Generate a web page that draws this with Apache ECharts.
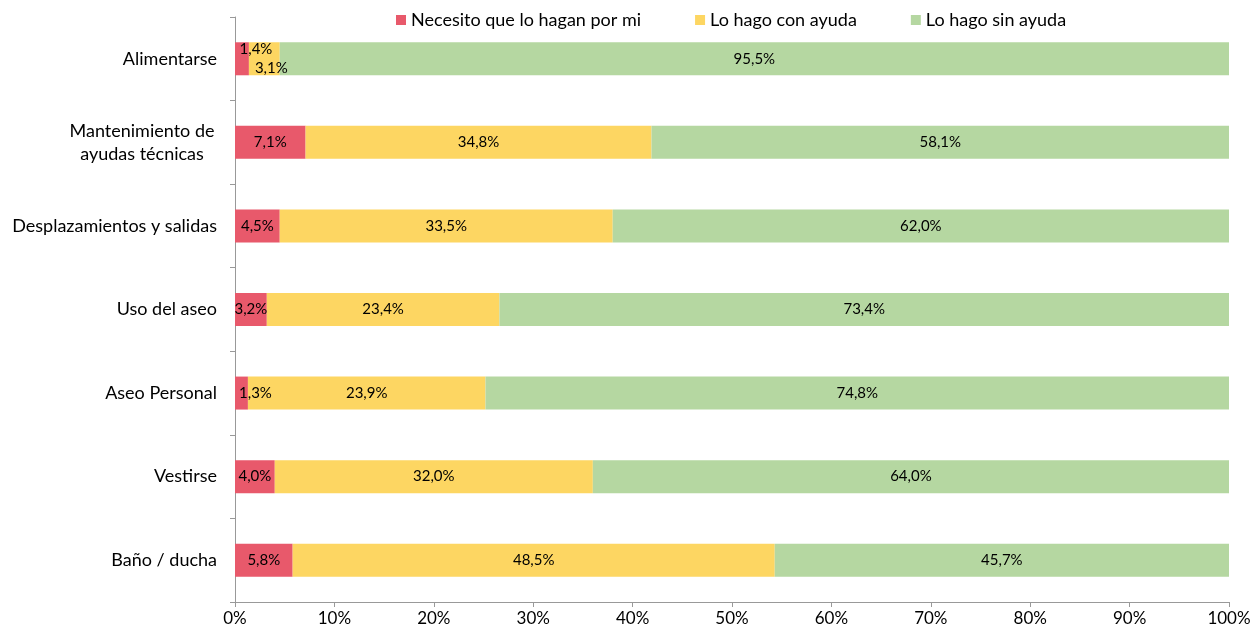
<!DOCTYPE html>
<html><head><meta charset="utf-8">
<script src="https://cdn.jsdelivr.net/npm/echarts@6/dist/echarts.min.js"></script>
<style>html,body{margin:0;padding:0;background:#fff}#c{width:1260px;height:637px}</style>
</head><body><div id="c"></div>
<script>
const categories = ['Alimentarse','Mantenimiento de\nayudas técnicas','Desplazamientos y salidas','Uso del aseo','Aseo Personal','Vestirse','Baño / ducha'];
const seriesNames = ['Necesito que lo hagan por mi','Lo hago con ayuda','Lo hago sin ayuda'];
const necesito = [1.4, 7.1, 4.5, 3.2, 1.3, 4.0, 5.8];
const conAyuda = [3.1, 34.8, 33.5, 23.4, 23.9, 32.0, 48.5];
const sinAyuda = [95.5, 58.1, 62.0, 73.4, 74.8, 64.0, 45.7];
const xTicks = [0,10,20,30,40,50,60,70,80,90,100];

const colors = ['#E8596B', '#FDD662', '#B5D7A1'];
const FONT = 'Lato, "Open Sans", sans-serif';
const fmt = v => v.toFixed(1).replace('.', ',') + '%';

// per-item label nudges (visual placement like the reference)
const nudges = {
  0: {0: [14, -10], 4: [14, 0]},
  1: {0: [7, 9]}
};
function build(vals, si) {
  return vals.map((v, i) => {
    const o = {value: v};
    if (nudges[si] && nudges[si][i]) o.label = {offset: nudges[si][i]};
    return o;
  });
}
const all = [necesito, conAyuda, sinAyuda];

const chart = echarts.init(document.getElementById('c'));
chart.setOption({
  animation: false,
  textStyle: {fontFamily: FONT},
  legend: {
    top: 6, left: 391,
    itemWidth: 10, itemHeight: 10, itemGap: 54,
    icon: 'rect',
    textStyle: {fontSize: 18, color: '#000', fontFamily: FONT},
    data: seriesNames
  },
  grid: {left: 235, right: 31, top: 17, bottom: 35, containLabel: false},
  xAxis: {
    type: 'value', min: 0, max: 100, interval: 10,
    axisLine: {show: true, lineStyle: {color: '#999'}},
    axisTick: {show: true, length: 5, lineStyle: {color: '#999'}},
    splitLine: {show: false},
    axisLabel: {fontSize: 17, color: '#000', margin: 8, fontFamily: FONT,
      formatter: v => xTicks.includes(v) ? v + '%' : ''}
  },
  yAxis: {
    type: 'category', data: categories, inverse: true,
    axisLine: {show: true, lineStyle: {color: '#999'}},
    axisTick: {show: true, length: 5, lineStyle: {color: '#999'}},
    axisLabel: {
      fontSize: 18, color: '#000', margin: 18, fontFamily: FONT, lineHeight: 23,
      formatter: v => v.indexOf('\n') >= 0 ? v.split('\n').map(l => '{c|' + l + '}').join('\n') : v,
      rich: {c: {width: 150, align: 'center', fontSize: 18, color: '#000', fontFamily: FONT, lineHeight: 23}}
    }
  },
  series: seriesNames.map((n, si) => ({
    name: n, type: 'bar', stack: 'total', barWidth: 33,
    itemStyle: {color: colors[si]},
    label: {show: true, position: 'inside', color: '#000', fontSize: 15, fontFamily: FONT,
      formatter: p => fmt(p.value)},
    data: build(all[si], si)
  }))
});
</script></body></html>
